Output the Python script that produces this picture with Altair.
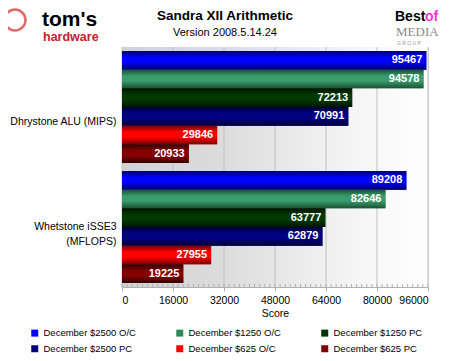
import altair as alt
import pandas as pd

categories = ["Dhrystone ALU (MIPS)", "Whetstone iSSE3 (MFLOPS)"]
series = [
    "December $2500 O/C",
    "December $1250 O/C",
    "December $1250 PC",
    "December $2500 PC",
    "December $625 O/C",
    "December $625 PC",
]
dhrystone = [95467, 94578, 72213, 70991, 29846, 20933]
whetstone = [89208, 82646, 63777, 62879, 27955, 19225]
x_ticks = [0, 16000, 32000, 48000, 64000, 80000, 96000]
minor_step = 1600

legend_colors = ["#0000ff", "#2e8b57", "#003300", "#000080", "#ff0000", "#800000"]
bar_bright = ["#0000ff", "#3a9c6c", "#003a00", "#000084", "#ff0000", "#860000"]
bar_dark = ["#000068", "#1a5034", "#001600", "#000036", "#780000", "#360000"]

FONT = "Liberation Sans"

rows = []
for cat, vals in zip(categories, [dhrystone, whetstone]):
    for s, v in zip(series, vals):
        rows.append({"test": cat, "series": s, "score": v})
df = pd.DataFrame(rows)
one = pd.DataFrame({"a": [0]})

xscale = alt.Scale(domain=[0, 96000], nice=False, zero=True)
xaxis = alt.Axis(
    title="Score", values=x_ticks, grid=False, format="d",
    labelFont=FONT, labelFontSize=10.5, labelColor="#000000", labelPadding=4,
    titleFont=FONT, titleFontSize=10.5, titleFontWeight="normal", titleColor="#000000",
    titlePadding=3, domainColor="#b0b0b0", tickColor="#b0b0b0", tickSize=4,
)
xenc = alt.X("score:Q", scale=xscale, axis=xaxis)
yenc = alt.Y(
    "test:N",
    scale=alt.Scale(domain=categories, paddingInner=0.0667, paddingOuter=0.0333),
    axis=alt.Axis(
        title=None, domain=False, ticks=False, labelFont=FONT, labelFontSize=10.5,
        labelColor="#000000", labelPadding=6, labelLineHeight=15, labelLimit=200,
        labelExpr="datum.value == 'Whetstone iSSE3 (MFLOPS)' ? ['Whetstone iSSE3', '(MFLOPS)'] : ['', datum.label]",
    ),
)
yoff = alt.YOffset("series:N", scale=alt.Scale(domain=series, paddingInner=0, paddingOuter=0))

bg = alt.Chart(one).mark_rect(
    color=alt.Gradient(
        gradient="linear", x1=0, x2=1, y1=0, y2=0,
        stops=[
            alt.GradientStop(offset=0, color="#d2d2d2"),
            alt.GradientStop(offset=0.33, color="#dcdcdc"),
            alt.GradientStop(offset=0.5, color="#e6e6e6"),
            alt.GradientStop(offset=0.67, color="#f0f0f0"),
            alt.GradientStop(offset=0.83, color="#f8f8f8"),
            alt.GradientStop(offset=1, color="#ffffff"),
        ],
    )
).encode(x=alt.value(0), x2=alt.value("width"), y=alt.value(0), y2=alt.value("height"))

grid = alt.Chart(pd.DataFrame({"score": x_ticks})).mark_rule(color="#c0c0c0", strokeWidth=1).encode(x=xenc)

minor_vals = [i * minor_step for i in range(int(x_ticks[-1] / minor_step) + 1)]
minor = alt.Chart(pd.DataFrame({"score": minor_vals})).mark_rule(
    color="#b0b0b0", strokeWidth=1
).encode(x=xenc, y=alt.value(237), y2=alt.value(240))

base = alt.Chart(df).mark_bar().encode(
    x=xenc, y=yenc, yOffset=yoff,
    color=alt.Color(
        "series:N",
        scale=alt.Scale(domain=series, range=legend_colors),
        legend=alt.Legend(
            title=None, orient="none", legendX=-92, legendY=281, direction="horizontal",
            columns=3, gridAlign="all", symbolType="square", symbolSize=49,
            symbolStrokeWidth=0, labelFont=FONT, labelFontSize=9.5, labelColor="#000000",
            columnPadding=39, rowPadding=5, labelOffset=4,
        ),
    ),
)

overlays = []
for s, b, d in zip(series, bar_bright, bar_dark):
    grad = alt.Gradient(
        gradient="linear", x1=0, x2=0, y1=0, y2=1,
        stops=[
            alt.GradientStop(offset=0, color=d),
            alt.GradientStop(offset=0.35, color=b),
            alt.GradientStop(offset=0.6, color=b),
            alt.GradientStop(offset=1, color=d),
        ],
    )
    overlays.append(
        alt.Chart(df).transform_filter(alt.datum.series == s).mark_bar(color=grad).encode(
            x=xenc, y=yenc, yOffset=yoff
        )
    )

labels = alt.Chart(df).mark_text(
    align="right", baseline="middle", dx=-4, color="#ffffff", font=FONT,
    fontSize=11, fontWeight="bold",
).encode(x=xenc, y=yenc, yOffset=yoff, text=alt.Text("score:Q", format="d"))

def deco(text, x, y, size, color="#000000", weight="normal", font=FONT, align="left", baseline="alphabetic"):
    return alt.Chart(one).mark_text(
        text=text, fontSize=size, color=color, fontWeight=weight, font=font,
        align=align, baseline=baseline,
    ).encode(x=alt.value(x), y=alt.value(y))

ring = alt.Chart(one).mark_point(
    shape="circle", size=440, filled=False, color="#d42a2a", strokeWidth=2.5
).encode(x=alt.value(-107), y=alt.value(-27))

decor = [
    deco("Sandra XII Arithmetic", 103, -31, 13.5, weight="bold", align="center", baseline="middle"),
    deco("Version 2008.5.14.24", 103, -14, 11, align="center", baseline="middle"),
    ring,
    deco("tom's", -80, -21, 21, weight="bold"),
    deco("hardware", -79, -6, 12.5, color="#c8202a", weight="bold"),
    deco("Best", 273, -26, 14, weight="bold"),
    deco("of", 303, -26, 14, color="#ff33cc", weight="bold"),
    deco("MEDIA", 274, -11, 13, color="#8a8a8a", font="Liberation Serif"),
    deco("G   R   O   U   P", 275, -2, 5, color="#999999"),
]

chart = alt.layer(bg, grid, minor, base, *overlays, labels, *decor).properties(
    width=306,
    height=240,
    autosize=alt.AutoSizeParams(type="none"),
    padding={"left": 114, "top": 39, "right": 14, "bottom": 66},
).configure_view(stroke="#c0c0c0").configure(background="#ffffff")

chart.save("out.html", embed_options={"renderer": "svg", "actions": False})
